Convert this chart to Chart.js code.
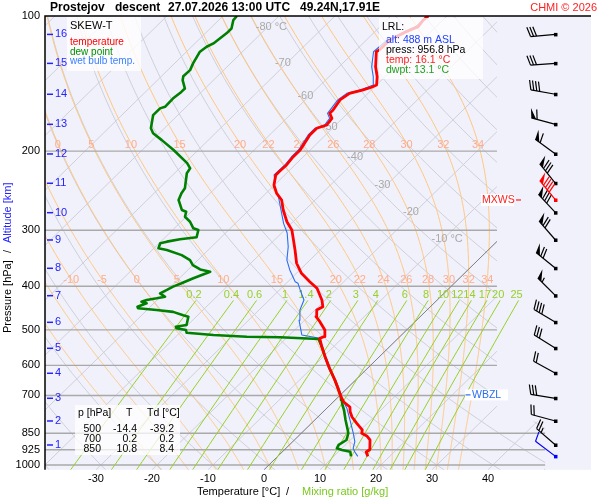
<!DOCTYPE html>
<html>
<head>
<meta charset="utf-8">
<script src="https://cdn.jsdelivr.net/npm/chart.js@4.4.1/dist/chart.umd.min.js"></script>
<style>
html, body { margin: 0; padding: 0; background: #fff; }
canvas { display: block; }
</style>
</head>
<body>
<canvas id="skewT" width="600" height="500"></canvas>
<script>
// sounding (pressure hPa, temperature degC), surface first
const tempP = [956.8, 935.5, 923.6, 879.7, 861.8, 850, 835.7, 807.5, 781.8, 760.9, 742.7, 723.9, 705.6, 673.8, 646.7, 609.0, 573.8, 545.2, 522.2, 517.9, 500.4, 479.6, 467.4, 451.6, 444.1, 429.0, 404.1, 390.6, 374.2, 355.4, 332.0, 315.4, 299.7, 287.2, 270.4, 256.9, 248.3, 237.9, 226.0, 221.1, 214.7, 205.8, 198.8, 184.1, 177.8, 174.9, 169.0, 164.7, 162.0, 153.8, 148.7, 146.1, 144.1, 142.4, 136.5, 129.7, 120.1, 119.0, 113.1, 108.4, 105.6, 102.1, 100];
const tempT = [16.1, 15.0, 15.2, 13.5, 12.2, 10.8, 10.3, 8.1, 6.1, 4.8, 3.9, 1.9, 0.5, -1.7, -3.7, -6.8, -9.7, -12.1, -14.0, -13.5, -14.6, -17.0, -18.6, -19.7, -19.2, -20.6, -23.6, -26.1, -29.1, -31.8, -34.5, -36.6, -38.7, -41.1, -43.9, -46.0, -48.1, -50.1, -51.6, -51.6, -51.5, -51.8, -51.8, -52.8, -52.8, -51.6, -51.9, -53.2, -53.2, -53.8, -53.3, -51.5, -50.5, -50.0, -51.4, -53.5, -56.1, -55.9, -55.8, -54.4, -53.2, -53.5, -53.3];

const dewP = [956.8, 934.1, 926.0, 918.0, 902.4, 879.7, 850, 835.7, 794.2, 754.3, 735.0, 716.5, 705.6, 673.8, 646.7, 609.0, 573.8, 545.2, 524.0, 519.4, 517.9, 513.4, 507.4, 500.4, 496.1, 492.1, 487.9, 467.4, 463.8, 456.0, 451.6, 447.8, 444.1, 436.4, 432.8, 429.0, 425.4, 421.9, 414.7, 407.5, 400.6, 393.9, 383.9, 371.1, 366.8, 358.7, 349.8, 340.9, 332.0, 329.1, 320.7, 318.1, 314.2, 311.0, 299.7, 297.1, 287.2, 280.0, 272.9, 270.4, 256.9, 248.3, 242.0, 224.0, 218.4, 212.6, 198.8, 189.0, 182.5, 177.9, 172.0, 166.3, 160.6, 159.3, 152.7, 147.6, 145.0, 139.0, 136.2, 132.0, 127.5, 120.1, 117.1, 115.1, 109.3, 106.6, 102.1, 100];
const dewT = [13.1, 12.1, 10.3, 9.1, 8.8, 9.3, 8.4, 7.7, 5.5, 3.4, 2.2, 1.2, 0.5, -1.7, -3.7, -6.8, -9.7, -12.1, -14.1, -21.3, -27.3, -33.6, -38.8, -39.4, -41.4, -41.8, -40.2, -41.4, -42.6, -45.0, -48.3, -51.9, -52.3, -51.3, -52.5, -51.9, -50.4, -49.2, -50.7, -50.1, -49.6, -48.7, -47.5, -45.7, -47.9, -50.0, -51.4, -53.8, -57.4, -59.2, -59.8, -58.9, -57.0, -54.4, -55.4, -56.6, -58.4, -60.2, -60.9, -62.0, -64.4, -65.1, -65.4, -67.8, -68.1, -69.6, -74.4, -78.3, -81.1, -82.4, -83.4, -84.4, -84.4, -83.8, -83.9, -83.6, -83.6, -85.5, -86.1, -86.0, -86.7, -87.6, -87.3, -86.7, -86.2, -86.2, -87.4, -87.5];

const wetP = [956.8, 934.1, 918.0, 887.4, 850, 794.2, 747.7, 722.8, 705.6, 673.8, 646.7, 609.0, 573.8, 545.2, 522.2, 513.4, 475.9, 451.6, 429.0, 407.5, 393.9, 390.6, 367.8, 349.8, 326.6, 304.3, 289.6, 270.4, 252.4, 239.9, 234.0, 226.0, 214.7, 205.8, 198.8, 184.1, 177.8, 174.9, 169.0, 164.7, 153.8, 148.7, 146.1, 142.4, 136.5, 129.7, 120.1, 113.1, 108.4, 105.6, 100];
const wetT = [14.3, 12.9, 12.0, 11.1, 9.3, 6.3, 3.6, 1.8, 0.5, -1.7, -3.7, -6.8, -9.7, -12.1, -14.0, -17.8, -21.0, -22.7, -23.8, -26.3, -27.9, -28.7, -31.8, -34.1, -36.3, -39.0, -41.4, -44.3, -47.2, -49.9, -50.5, -51.9, -51.8, -52.1, -52.1, -53.1, -53.1, -52.0, -52.3, -53.6, -54.2, -53.8, -52.0, -50.6, -52.1, -54.2, -56.6, -56.3, -54.8, -53.6, -53.6];

// axes
const pressTicks = [100, 200, 300, 400, 500, 600, 700, 850, 925, 1000];
const tempTicks = [-30, -20, -10, 0, 10, 20, 30, 40];
const altKm = [1, 2, 3, 4, 5, 6, 7, 8, 9, 10, 11, 12, 13, 14, 15, 16];
const altP = [902.5, 798.0, 710.3, 624.8, 549.7, 481.1, 419.7, 364.7, 315.4, 274.2, 235.8, 202.9, 174.3, 149.4, 127.5, 109.9];

// wind at the altitude levels (dir deg, speed kt)
const windDir = [311, 285, 279, 299, 302, 301, 315, 309, 319, 317, 321, 306, 285, 280, 266, 265];
const windSpd = [25, 20, 30, 20, 30, 40, 55, 70, 70, 80, 80, 60, 60, 40, 30, 30];
const mxwsP = 256.9, mxwsDir = 321, mxwsSpd = 90;
const sfcP = 956.8, sfcDir = 307, sfcSpd = 10;
const wbzlP = 698;

// diagram lines
const thetaW = [-20, -15, -10, -5, 0, 5, 10, 15, 20, 22, 24, 26, 28, 30, 32, 34];
const thetaLabels200 = [0, 5, 10, 15, 20, 22, 24, 26, 28, 30, 32, 34];
const thetaLabels400 = [-10, -5, 0, 5, 10, 15, 20, 22, 24, 26, 28, 30, 32, 34];
const mixRatios = [0.2, 0.4, 0.6, 1, 1.4, 2, 3, 4, 6, 8, 10, 12, 14, 17, 20, 25];
const isoLabelT = [-80, -70, -60, -50, -40, -30, -20, -10];
const isoLabelP = [105.8, 127.3, 150.7, 176.7, 206.1, 237.9, 273.2, 313.8];

// tables
const tableP = [500, 700, 850];
const tableT = [-14.4, 0.2, 10.8];
const tableTd = [-39.2, 0.2, 8.4];
const lrlAlt = 488, lrlPress = 956.8, lrlTemp = 16.1, lrlDwpt = 13.1;

const FONT = '"Liberation Sans", Arial, sans-serif';
const SKEW = 35.52;   // degC per ln(p) unit
const P_BOT = 1025;
const P_TOP = 100;
const X_MIN = -39.107, X_MAX = 58.393;

function skewX(T, p) { return T + SKEW * Math.log(P_BOT / p); }

function mixTd(w, p) {
    const e = w * p / (622 + w);
    const l = Math.log(e / 6.112);
    return 243.5 * l / (17.67 - l);
}

// pseudoadiabat from thetaW at 1000 hPa
function moistCurve(tw) {
    const Rd = 287.04, Cp = 1005.7, Lv = 2.501e6, eps = 0.622;
    const dTdp = (T, p) => {
        const Tc = T - 273.15;
        const es = 6.112 * Math.exp(17.67 * Tc / (Tc + 243.5));
        const rs = eps * es / (p - es);
        return (Rd * T + Lv * rs) / (p * (Cp + Lv * Lv * rs * eps / (Rd * T * T)));
    };
    const pts = [];
    const down = [];
    let T = tw + 273.15;
    for (let p = 1000; p < 1030; p += 2) {
        down.push([p, T - 273.15]);
        const h = 2, k1 = dTdp(T, p), k2 = dTdp(T + h * k1 / 2, p + h / 2);
        T += h * k2;
    }
    down.reverse().forEach(d => pts.push(d));
    pts.pop();
    T = tw + 273.15;
    for (let p = 1000; p >= 98; p -= 2) {
        pts.push([p, T - 273.15]);
        const h = -2, k1 = dTdp(T, p), k2 = dTdp(T + h * k1 / 2, p + h / 2);
        T += h * k2;
    }
    return pts;
}
const moistLines = thetaW.map(tw => moistCurve(tw));

function logSteps(p0, p1, n) {
    const out = [];
    for (let i = 0; i <= n; i++) out.push(p0 * Math.pow(p1 / p0, i / n));
    return out;
}

function strokePts(ctx, pts, color, width) {
    ctx.beginPath();
    pts.forEach(([x, y], i) => i ? ctx.lineTo(x, y) : ctx.moveTo(x, y));
    ctx.strokeStyle = color;
    ctx.lineWidth = width;
    ctx.stroke();
}

const skewBackground = {
    id: 'skewBackground',
    beforeDraw(chart) {
        const { ctx, chartArea: a, scales: { x: xs, y: ys } } = chart;
        const px = (T, p) => xs.getPixelForValue(skewX(T, p));
        const py = p => ys.getPixelForValue(p);
        const xR1 = xs.getPixelForValue(41.6), xR2 = xs.getPixelForValue(50.2), yExt = py(800);

        ctx.save();
        ctx.fillStyle = '#f1f1fb';
        ctx.fillRect(a.left, a.top, a.right - a.left, a.bottom - a.top);

        ctx.save();
        ctx.beginPath();
        ctx.moveTo(a.left, a.top);
        ctx.lineTo(xR1, a.top);
        ctx.lineTo(xR1, yExt);
        ctx.lineTo(xR2, yExt);
        ctx.lineTo(xR2, a.bottom);
        ctx.lineTo(a.left, a.bottom);
        ctx.closePath();
        ctx.clip();

        const ps = logSteps(P_BOT, P_TOP, 80);
        // isotherms
        for (let T = -140; T <= 50; T += 10) {
            strokePts(ctx, [[px(T, P_BOT), py(P_BOT)], [px(T, P_TOP), py(P_TOP)]], '#cfcfd8', 1);
        }
        // dry adiabats
        for (let th = -40; th <= 200; th += 10) {
            const pts = ps.map(p => [px((th + 273.15) * Math.pow(p / 1000, 0.2857) - 273.15, p), py(p)]);
            strokePts(ctx, pts, '#cfcfd8', 1);
        }
        // moist adiabats
        moistLines.forEach(line => {
            strokePts(ctx, line.map(([p, T]) => [px(T, p), py(p)]), 'rgb(255,198,125)', 1);
        });
        // isobars
        pressTicks.forEach(p => {
            if (p === 100) return;
            strokePts(ctx, [[a.left, py(p)], [a.right, py(p)]], '#a9a9a9', 1.4);
        });
        // 0 degC isotherm
        strokePts(ctx, [[px(0, P_BOT), py(P_BOT)], [px(0, P_TOP), py(P_TOP)]], '#808080', 1);
        ctx.restore();

        // mixing ratio lines
        ctx.save();
        ctx.beginPath();
        ctx.rect(a.left, a.top, a.right - a.left, a.bottom - a.top);
        ctx.clip();
        const mixTop = 430;
        mixRatios.forEach(w => {
            const pts = logSteps(P_BOT, mixTop, 20).map(p => [px(mixTd(w, p), p), py(p)]);
            strokePts(ctx, pts, 'rgb(150,208,40)', 1);
        });
        ctx.font = '11px ' + FONT;
        ctx.textAlign = 'center';
        ctx.textBaseline = 'middle';
        ctx.fillStyle = 'rgb(150,208,40)';
        mixRatios.forEach(w => {
            ctx.fillText(String(w), px(mixTd(w, mixTop), mixTop) - 2, py(mixTop) - 5);
        });
        ctx.restore();

        // moist adiabat labels
        ctx.font = '11px ' + FONT;
        ctx.textAlign = 'center';
        ctx.textBaseline = 'middle';
        ctx.fillStyle = 'rgb(255,172,140)';
        const rows = [[193.7, thetaLabels200, 7], [387.3, thetaLabels400, 25]];
        rows.forEach(([pl, labels, minDx]) => {
            labels.forEach(tw => {
                const line = moistLines[thetaW.indexOf(tw)];
                const d = line[line.findIndex(q => q[0] <= pl)];
                const x = Math.max(px(d[1], d[0]), a.left + minDx);
                ctx.fillText(String(tw), x, py(pl));
            });
        });

        // isotherm labels
        ctx.fillStyle = '#a9a9a9';
        ctx.textAlign = 'left';
        isoLabelT.forEach((T, i) => {
            const num = String(T);
            const w = ctx.measureText(num).width;
            const txt = (T === -80 || T === -10) ? num + ' \u00b0C' : num;
            ctx.fillText(txt, px(T, isoLabelP[i]) - 4 - w / 2, py(isoLabelP[i]));
        });

        // altitude scale
        ctx.strokeStyle = 'rgb(35,35,255)';
        ctx.fillStyle = 'rgb(35,35,255)';
        ctx.lineWidth = 1.5;
        ctx.textAlign = 'left';
        altKm.forEach((km, i) => {
            const y = py(altP[i]);
            ctx.beginPath();
            ctx.moveTo(a.left + 2, y);
            ctx.lineTo(a.left + 8, y);
            ctx.stroke();
            ctx.fillText(String(km), a.left + 10, y);
        });
        ctx.restore();
    }
};

function drawBarb(ctx, x, y, dir, spd, color) {
    const r = dir * Math.PI / 180;
    const ux = Math.sin(r), uy = -Math.cos(r);
    const L = 25;
    const tx = x + ux * L, ty = y + uy * L;
    const vx = -uy, vy = ux, t = 0.3;
    const bx = vx * Math.cos(t) + ux * Math.sin(t), by = vy * Math.cos(t) + uy * Math.sin(t);
    ctx.strokeStyle = color;
    ctx.fillStyle = color;
    ctx.lineWidth = 1.2;
    ctx.beginPath();
    ctx.moveTo(x, y);
    ctx.lineTo(tx, ty);
    ctx.stroke();
    ctx.fillRect(x - 1.5, y - 1.5, 3.5, 3.5);
    let s = Math.round(spd / 5) * 5, pos = 0;
    while (s >= 50) {
        const ax = tx - ux * pos, ay = ty - uy * pos;
        ctx.beginPath();
        ctx.moveTo(ax, ay);
        ctx.lineTo(ax - ux * 5, ay - uy * 5);
        ctx.lineTo(ax + bx * 10, ay + by * 10);
        ctx.closePath();
        ctx.fill();
        pos += 6;
        s -= 50;
    }
    while (s >= 10) {
        const ax = tx - ux * pos, ay = ty - uy * pos;
        ctx.beginPath();
        ctx.moveTo(ax, ay);
        ctx.lineTo(ax + bx * 10, ay + by * 10);
        ctx.stroke();
        pos += 3;
        s -= 10;
    }
    if (s >= 5) {
        if (pos === 0) pos = 3;
        const ax = tx - ux * pos, ay = ty - uy * pos;
        ctx.beginPath();
        ctx.moveTo(ax, ay);
        ctx.lineTo(ax + bx * 5, ay + by * 5);
        ctx.stroke();
    }
}

const overlays = {
    id: 'overlays',
    afterDatasetsDraw(chart) {
        const { ctx, scales: { x: xs, y: ys } } = chart;
        const py = p => ys.getPixelForValue(p);
        ctx.save();
        ctx.textBaseline = 'middle';
        ctx.textAlign = 'left';

        // legend box
        ctx.fillStyle = 'rgba(255,255,255,0.8)';
        ctx.fillRect(67, 16, 74, 55);
        ctx.font = '11px ' + FONT;
        ctx.fillStyle = '#000';
        ctx.fillText('SKEW-T', 70, 26);
        ctx.font = '10px ' + FONT;
        ctx.fillStyle = '#ff0000';
        ctx.fillText('temperature', 70, 42.3);
        ctx.fillStyle = '#009000';
        ctx.fillText('dew point', 70, 51.8);
        ctx.fillStyle = '#3a80ff';
        ctx.fillText('wet bulb temp.', 70, 61.7);

        // LRL box
        ctx.fillStyle = 'rgba(255,255,255,0.75)';
        ctx.fillRect(379, 18, 104, 61);
        ctx.font = '10.5px ' + FONT;
        ctx.fillStyle = '#000';
        ctx.fillText('LRL:', 382, 27.3);
        ctx.fillStyle = '#2040ff';
        ctx.fillText('alt: ' + lrlAlt + ' m ASL', 386, 40);
        ctx.fillStyle = '#000';
        ctx.fillText('press: ' + lrlPress.toFixed(1) + ' hPa', 386, 50);
        ctx.fillStyle = '#ff2020';
        ctx.fillText('temp: ' + lrlTemp.toFixed(1) + ' \u00b0C', 386, 60);
        ctx.fillStyle = '#20a020';
        ctx.fillText('dwpt: ' + lrlDwpt.toFixed(1) + ' \u00b0C', 386, 70);

        // table box
        ctx.fillStyle = 'rgba(255,255,255,0.75)';
        ctx.fillRect(75, 405, 105, 50);
        ctx.fillStyle = '#000';
        ctx.font = '10.5px ' + FONT;
        ctx.fillText('p [hPa]', 78, 413.5);
        ctx.fillText('T', 126, 413.5);
        ctx.fillText('Td [\u00b0C]', 147, 413.5);
        ctx.textAlign = 'right';
        tableP.forEach((p, i) => {
            const y = 429 + i * 10;
            ctx.fillText(String(p), 101, y);
            ctx.fillText(tableT[i].toFixed(1), 137, y);
            ctx.fillText(tableTd[i].toFixed(1), 174, y);
        });

        // WBZL
        const yw = py(wbzlP);
        ctx.fillStyle = '#fff';
        ctx.fillRect(465, yw - 5.5, 43, 11);
        ctx.strokeStyle = '#2a6ef0';
        ctx.lineWidth = 1.2;
        ctx.beginPath();
        ctx.moveTo(465.5, yw);
        ctx.lineTo(470.5, yw);
        ctx.stroke();
        ctx.textAlign = 'left';
        ctx.font = '10.5px ' + FONT;
        ctx.fillStyle = '#2a6ef0';
        ctx.fillText('WBZL', 472, yw);

        // MXWS
        const ym = py(mxwsP);
        ctx.fillStyle = '#fff';
        ctx.fillRect(481, ym - 6, 33, 12);
        ctx.fillStyle = '#ff2020';
        ctx.fillText('MXWS', 482, ym);
        ctx.strokeStyle = '#ff2020';
        ctx.beginPath();
        ctx.moveTo(516, ym);
        ctx.lineTo(521, ym);
        ctx.stroke();

        // wind barbs
        const bxp = xs.getPixelForValue(52.05);
        altP.forEach((p, i) => drawBarb(ctx, bxp, py(p), windDir[i], windSpd[i], '#000'));
        drawBarb(ctx, bxp, py(mxwsP), mxwsDir, mxwsSpd, '#ff0000');
        drawBarb(ctx, bxp, py(sfcP), sfcDir, sfcSpd, '#0000ff');
        ctx.restore();
    },
    afterDraw(chart) {
        const { ctx, chartArea: a } = chart;
        ctx.save();
        // frame top and left
        ctx.strokeStyle = '#000';
        ctx.lineWidth = 1.5;
        ctx.beginPath();
        ctx.moveTo(a.left, a.bottom);
        ctx.lineTo(a.left, a.top);
        ctx.lineTo(a.right, a.top);
        ctx.stroke();

        ctx.textBaseline = 'middle';
        ctx.textAlign = 'left';
        ctx.font = 'bold 12px ' + FONT;
        ctx.fillStyle = '#000';
        ctx.fillText('Prostejov', 50, 7.5);
        ctx.fillText('descent', 115, 7.5);
        ctx.fillText('27.07.2026 13:00 UTC', 168, 7.5);
        ctx.fillText('49.24N,17.91E', 300, 7.5);
        ctx.font = '11px ' + FONT;
        ctx.fillStyle = '#ff2020';
        ctx.textAlign = 'right';
        ctx.fillText('CHMI \u00a9 2026', 597, 7.5);

        // x title
        ctx.textAlign = 'left';
        ctx.fillStyle = '#000';
        ctx.fillText('Temperature [\u00b0C]', 197, 492);
        ctx.fillText('/', 286, 492);
        ctx.fillStyle = 'rgb(120,200,30)';
        ctx.fillText('Mixing ratio [g/kg]', 302, 492);

        // y title
        ctx.translate(8, 0);
        ctx.rotate(-Math.PI / 2);
        ctx.fillStyle = '#000';
        ctx.fillText('Pressure [hPa]', -333, 0);
        ctx.fillText('/', -253, 0);
        ctx.fillStyle = 'rgb(35,35,255)';
        ctx.fillText('Altitude [km]', -243, 0);
        ctx.restore();
    }
};

const toPoints = (P, T) => P.map((p, i) => ({ x: skewX(T[i], p), y: p }));

new Chart(document.getElementById('skewT'), {
    type: 'scatter',
    data: {
        datasets: [
            { label: 'temperature', data: toPoints(tempP, tempT), borderColor: '#ff0000', borderWidth: 2.8, order: 1 },
            { label: 'dew point', data: toPoints(dewP, dewT), borderColor: '#008000', borderWidth: 2.6, order: 2 },
            { label: 'wet bulb temp.', data: toPoints(wetP, wetT), borderColor: '#2a6ef0', borderWidth: 1.1, order: 3 }
        ].map(d => Object.assign(d, { showLine: true, pointRadius: 0, tension: 0, borderJoinStyle: 'round' }))
    },
    options: {
        responsive: false,
        animation: false,
        events: [],
        layout: { padding: { top: 16, right: 9, left: 0, bottom: 0 } },
        plugins: { legend: { display: false }, tooltip: { enabled: false } },
        scales: {
            x: {
                type: 'linear',
                min: X_MIN,
                max: X_MAX,
                grid: { display: false, drawTicks: false },
                border: { display: false },
                ticks: { color: '#000', font: { size: 11, family: FONT }, padding: 3, maxRotation: 0, autoSkip: false, callback: v => String(v) },
                afterBuildTicks: s => { s.ticks = tempTicks.map(v => ({ value: v })); },
                afterFit: s => { s.height = 30.2; }
            },
            y: {
                type: 'logarithmic',
                reverse: true,
                min: P_TOP,
                max: P_BOT,
                grid: { display: false, drawTicks: false },
                border: { display: false },
                ticks: { color: '#000', font: { size: 11, family: FONT }, padding: 5, autoSkip: false, callback: v => String(v) },
                afterBuildTicks: s => { s.ticks = pressTicks.map(v => ({ value: v })); },
                afterFit: s => { s.width = 45; }
            }
        }
    },
    plugins: [skewBackground, overlays]
});
</script>
</body>
</html>
